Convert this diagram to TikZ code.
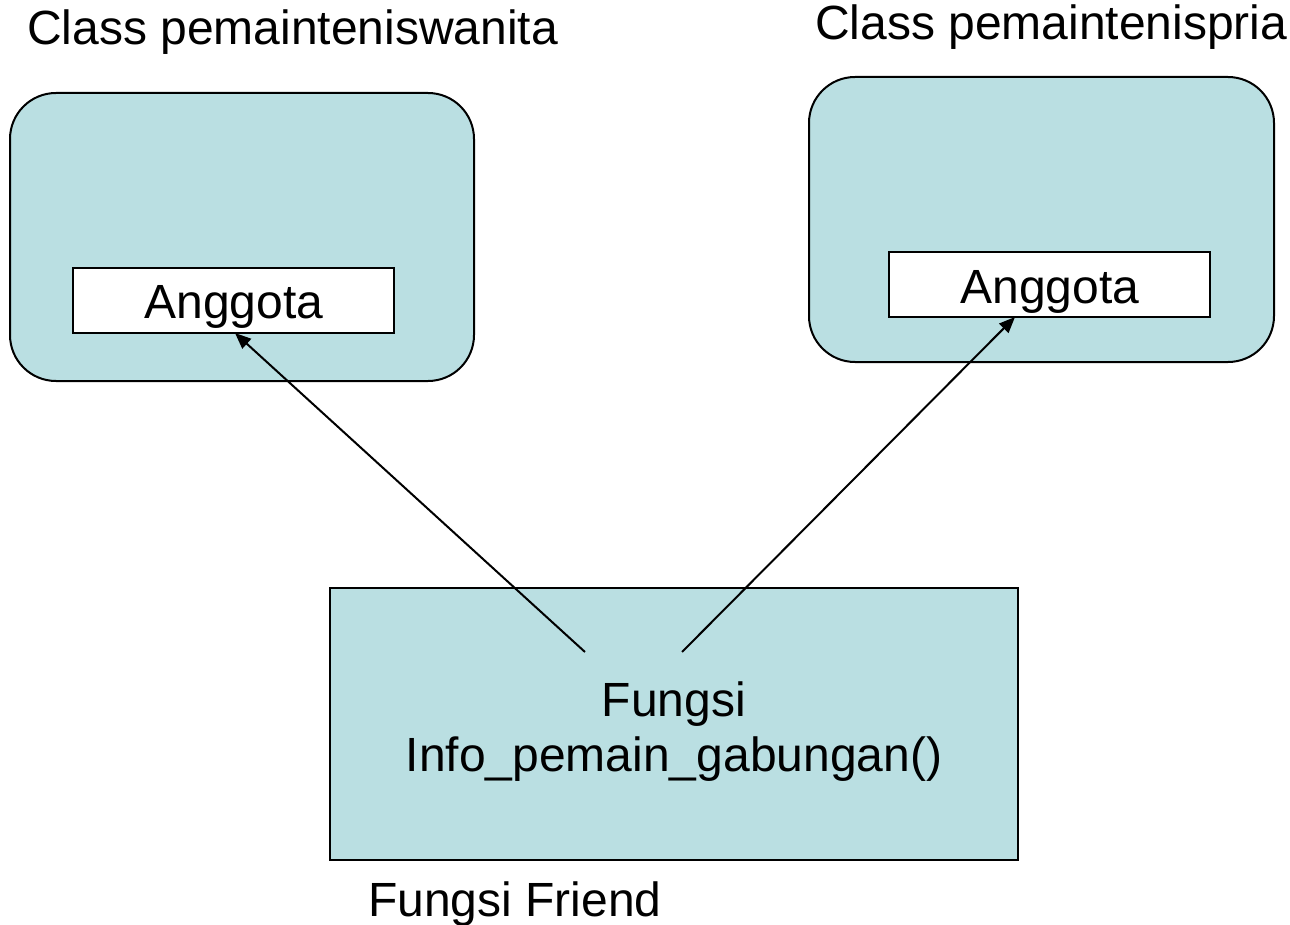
\documentclass[tikz,border=0pt]{standalone}
\usepackage{fontspec}
\setmainfont{Liberation Sans}
\usetikzlibrary{arrows.meta}
\definecolor{boxfill}{RGB}{186,223,226}
\begin{document}
\begin{tikzpicture}[x=1pt,y=-1pt,
  classbox/.style={draw=black,line width=2pt,fill=boxfill,rounded corners=46pt,inner sep=0pt},
  membox/.style={draw=black,line width=2pt,fill=white,inner sep=0pt},
  funcbox/.style={draw=black,line width=2pt,fill=boxfill,inner sep=0pt},
  lbl/.style={inner sep=0pt,anchor=base west,font=\fontsize{48}{56}\selectfont},
  clbl/.style={inner sep=0pt,anchor=base,font=\fontsize{48}{56}\selectfont},
  conn/.style={line width=2pt,-{Triangle[length=16pt,width=13pt]}}]
\useasboundingbox (0,0) rectangle (1290,925);
% class boxes
\node[classbox,minimum width=464pt,minimum height=288pt] (cw) at (242,237) {};
\node[classbox,minimum width=465pt,minimum height=285pt] (cp) at (1041.5,219.5) {};
\node[membox,minimum width=321pt,minimum height=65pt] (aw) at (233.5,300.5) {};
\node[membox,minimum width=321pt,minimum height=65pt] (ap) at (1049.5,284.5) {};
\node[funcbox,minimum width=688pt,minimum height=272pt] (fb) at (674,724) {};
% labels
\node[lbl] (t1) at (27,45) {Class pemainteniswanita};
\node[lbl] (t2) at (815,40) {Class pemaintenispria};
\node[clbl] (a1) at (234,319) {Anggota};
\node[clbl] (a2) at (1050,303) {Anggota};
\node[clbl] (f1) at (674,716) {Fungsi};
\node[clbl] (f2) at (674,771) {Info\_pemain\_gabungan()};
\node[lbl] (ff) at (368,916) {Fungsi Friend};
% connectors
\coordinate (s1) at (585,652);
\coordinate (s2) at (682,652);
\coordinate (e1) at (235,333);
\coordinate (e2) at (1015,317);
\draw[conn] (s1) -- (e1);
\draw[conn] (s2) -- (e2);
\end{tikzpicture}
\end{document}
